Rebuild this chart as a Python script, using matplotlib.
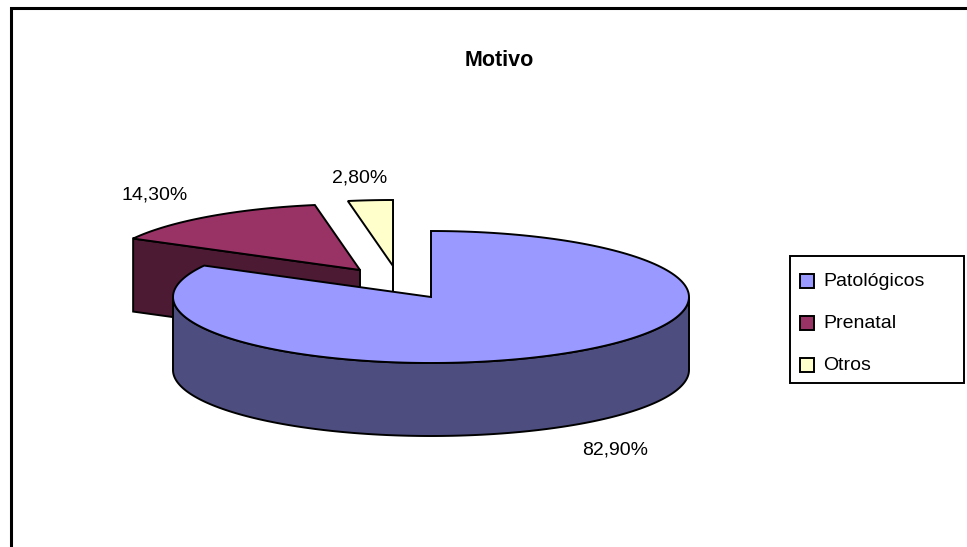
import numpy as np
import matplotlib
matplotlib.use('Agg')
import matplotlib.pyplot as plt
from matplotlib.patches import Polygon, Rectangle

plt.rcParams['font.family'] = ['Liberation Sans', 'DejaVu Sans']

labels = ['Patológicos', 'Prenatal', 'Otros']
values = [82.9, 14.3, 2.8]
value_labels = ['82,90%', '14,30%', '2,80%']
top_colors = ['#9999ff', '#993366', '#ffffcc']
side_colors = ['#4d4d80', '#4d1a33', '#808066']

W, H = 967, 547
RX, RY, DEPTH = 258, 66, 73
# tip of each wedge, the two small ones are pulled out of the pie
tips = [(431, 297), (360, 270), (393, 266)]
label_pos = [(615, 450), (155, 195), (360, 178)]

fig = plt.figure(figsize=(W / 100, H / 100), dpi=100)
ax = fig.add_axes([0, 0, 1, 1])
ax.set_xlim(0, W)
ax.set_ylim(H, 0)
ax.axis('off')


def rim(tip, t0, t1, dy=0):
    t = np.radians(np.linspace(t0, t1, 200))
    return np.column_stack([tip[0] + RX * np.sin(t), tip[1] - RY * np.cos(t) + dy])


def outline(pts, color, z):
    ax.add_patch(Polygon(pts, closed=True, fc=color, ec='black', lw=1.4, joinstyle='miter', zorder=z))


ax.add_patch(Rectangle((11, 8), W + 20, H + 20, fc='white', ec='black', lw=2.2, zorder=0))

angles = np.cumsum([0] + values) * 3.6

# back wedges first, the big one covers them
for i in [2, 1, 0]:
    t0, t1 = angles[i], angles[i + 1]
    tip = np.array(tips[i])
    z = 3 - i
    z = z * 3
    # cut face on the end of the wedge
    end = rim(tip, t1, t1)[0]
    start = rim(tip, t0, t0)[0]
    if i == 0:
        # only the front rim of the big wedge can be seen
        front = rim(tip, 90, 270)
        side = np.vstack([front, rim(tip, 270, 90, DEPTH)])
        outline(side, side_colors[i], z)
    else:
        d = np.array([0, DEPTH])
        cut_a = np.array([start, tip, tip + d, start + d])
        cut_b = np.array([end, tip, tip + d, end + d])
        outline(cut_a if i == 1 else cut_b, side_colors[i], z)
    top = np.vstack([tip, rim(tip, t0, t1)])
    outline(top, top_colors[i], z + 1)

ax.text(499, 60, 'Motivo', ha='center', va='center', fontsize=15.5, fontweight='bold')
for txt, (x, y) in zip(value_labels, label_pos):
    ax.text(x, y, txt, ha='center', va='center', fontsize=14)

# legend
ax.add_patch(Rectangle((790, 256), 174, 127, fc='white', ec='black', lw=1.4, zorder=10))
for lab, col, y in zip(labels, top_colors, [281, 323, 365]):
    ax.add_patch(Rectangle((800, y - 7), 14, 14, fc=col, ec='black', lw=1.4, zorder=11))
    ax.text(823, y, lab, ha='left', va='center', fontsize=14, zorder=11)

fig.savefig('out.png', dpi=100)
